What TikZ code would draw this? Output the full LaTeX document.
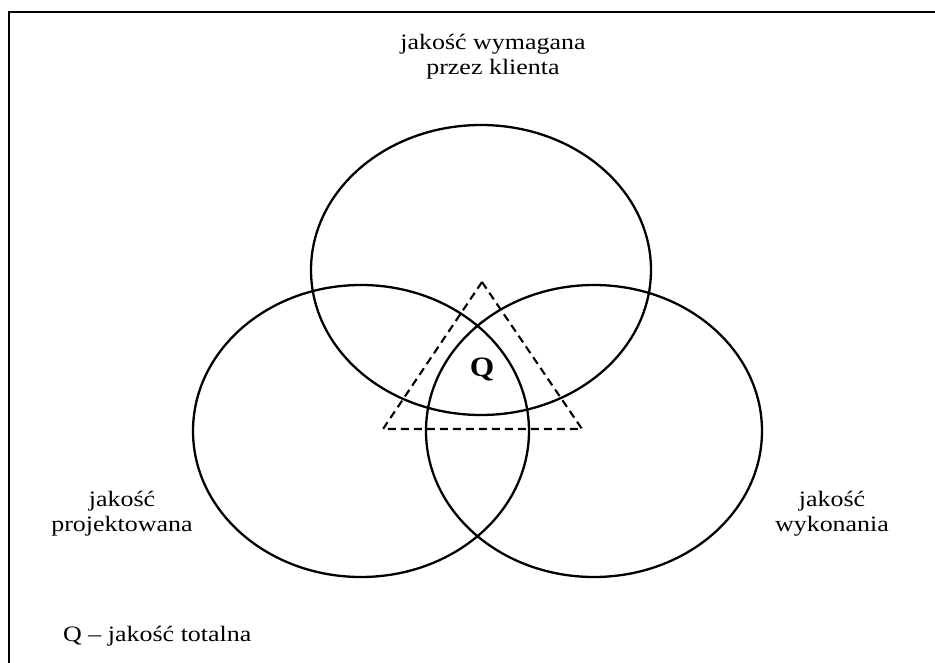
\documentclass[tikz,border=0pt]{standalone}
\usepackage{fontspec}
\setmainfont{Liberation Serif}
\usetikzlibrary{shapes.geometric}
\tikzset{
  ring/.style={draw=black, line width=2.3pt, ellipse, inner sep=0pt},
  frameline/.style={draw=black, line width=2.3pt},
  tri/.style={draw=black, line width=2.1pt, dash pattern=on 8pt off 5pt},
  lbl/.style={font=\fontsize{22}{25}\selectfont, align=center, inner sep=0pt, xscale=1.18},
  qlbl/.style={font=\fontsize{28}{30}\selectfont\bfseries, inner sep=0pt, xscale=1.12}
}
\begin{document}
\begin{tikzpicture}[x=1pt,y=-1pt]
  \useasboundingbox[fill=white] (0,0) rectangle (935,663);
  % frame (cropped: only top and left edges visible)
  \coordinate (ftl) at (9,12);
  \coordinate (ftr) at (935,12);
  \coordinate (fbl) at (9,663);
  \draw[frameline] (ftr) -- (ftl) -- (fbl);
  % circles
  \node[ring, minimum width=340pt, minimum height=290pt] (ctop) at (481,270) {};
  \node[ring, minimum width=336pt, minimum height=292pt] (cleft) at (361,431) {};
  \node[ring, minimum width=336pt, minimum height=292pt] (cright) at (594,431) {};
  % dashed triangle
  \coordinate (ta) at (482,282);
  \coordinate (tl) at (383,429);
  \coordinate (tr) at (582,429);
  \draw[tri] (ta) -- (tr) -- (tl) -- cycle;
  % labels
  \node[qlbl] (q) at (482,369) {Q};
  \node[lbl] (lclient) at (493,57) {jakość wymagana\\przez klienta};
  \node[lbl] (lproj) at (122,514) {jakość\\projektowana};
  \node[lbl] (lwyk) at (832,514) {jakość\\wykonania};
  \node[lbl, anchor=west] (legend) at (63,636) {Q – jakość totalna};
\end{tikzpicture}
\end{document}
